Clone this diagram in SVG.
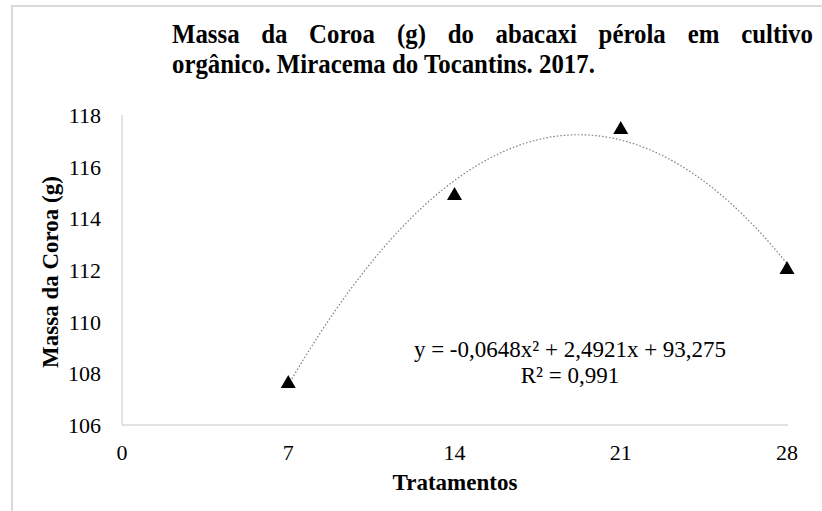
<svg xmlns="http://www.w3.org/2000/svg" xmlns:xlink="http://www.w3.org/1999/xlink" width="822" height="511" viewBox="0 0 822 511">
  <style>
    text { font-family: "Liberation Serif", "Times New Roman", Times, serif; fill: #000; }
    .title { font-weight: bold; font-size: 27px; }
    .axt { font-weight: bold; font-size: 23px; }
    .tick { font-size: 22px; }
    .eq { font-size: 23px; }
    .axis { stroke: #d9d9d9; stroke-width: 1.5; fill: none; }
    .trend { stroke: #7f7f7f; stroke-width: 1.2; stroke-dasharray: 1.5 2; fill: none; }
    .frame { stroke: #d9d9d9; stroke-width: 2; fill: #fff; }
  </style>
  <defs>
    <path id="tri" d="M0,-7 L7.5,6 L-7.5,6 Z" fill="#000"/>
  </defs>

  <rect class="frame" x="12" y="6" width="830" height="530"/>

  <g id="title" transform="translate(172,0) scale(0.92,1)">
    <text class="title" y="43"><tspan x="0">Massa</tspan><tspan x="97">da</tspan><tspan x="149">Coroa</tspan><tspan x="244.6">(g)</tspan><tspan x="299.6">do</tspan><tspan x="351.6">abacaxi</tspan><tspan x="463.7">pérola</tspan><tspan x="560.7">em</tspan><tspan x="618.7">cultivo</tspan></text>
    <text class="title" x="0" y="73">orgânico. Miracema do Tocantins. 2017.</text>
  </g>

  <g id="y-axis">
    <line class="axis" x1="122" y1="115" x2="122" y2="425"/>
    <text class="tick" text-anchor="end" x="101" y="123">118</text>
    <text class="tick" text-anchor="end" x="101" y="174.7">116</text>
    <text class="tick" text-anchor="end" x="101" y="226.3">114</text>
    <text class="tick" text-anchor="end" x="101" y="278">112</text>
    <text class="tick" text-anchor="end" x="101" y="329.7">110</text>
    <text class="tick" text-anchor="end" x="101" y="381.3">108</text>
    <text class="tick" text-anchor="end" x="101" y="433">106</text>
    <text class="axt" text-anchor="middle" transform="translate(58,272) rotate(-90)">Massa da Coroa (g)</text>
  </g>

  <g id="x-axis">
    <line class="axis" x1="122" y1="425" x2="788" y2="425"/>
    <text class="tick" text-anchor="middle" x="122" y="460">0</text>
    <text class="tick" text-anchor="middle" x="288.25" y="460">7</text>
    <text class="tick" text-anchor="middle" x="454.5" y="460">14</text>
    <text class="tick" text-anchor="middle" x="620.75" y="460">21</text>
    <text class="tick" text-anchor="middle" x="787" y="460">28</text>
    <text class="axt" text-anchor="middle" x="455" y="490">Tratamentos</text>
  </g>

  <g id="connectors">
    <path id="trendline" class="trend" d="M288.25,385.1 Q537.6,-44.8 787,263.5"/>
  </g>

  <g id="series">
    <use xlink:href="#tri" x="288.25" y="382"/>
    <use xlink:href="#tri" x="454.5" y="194"/>
    <use xlink:href="#tri" x="620.75" y="128"/>
    <use xlink:href="#tri" x="787" y="268"/>
  </g>

  <g id="equation">
    <text class="eq" text-anchor="middle" x="570" y="357">y = -0,0648x² + 2,4921x + 93,275</text>
    <text class="eq" text-anchor="middle" x="570" y="383">R² = 0,991</text>
  </g>
</svg>
